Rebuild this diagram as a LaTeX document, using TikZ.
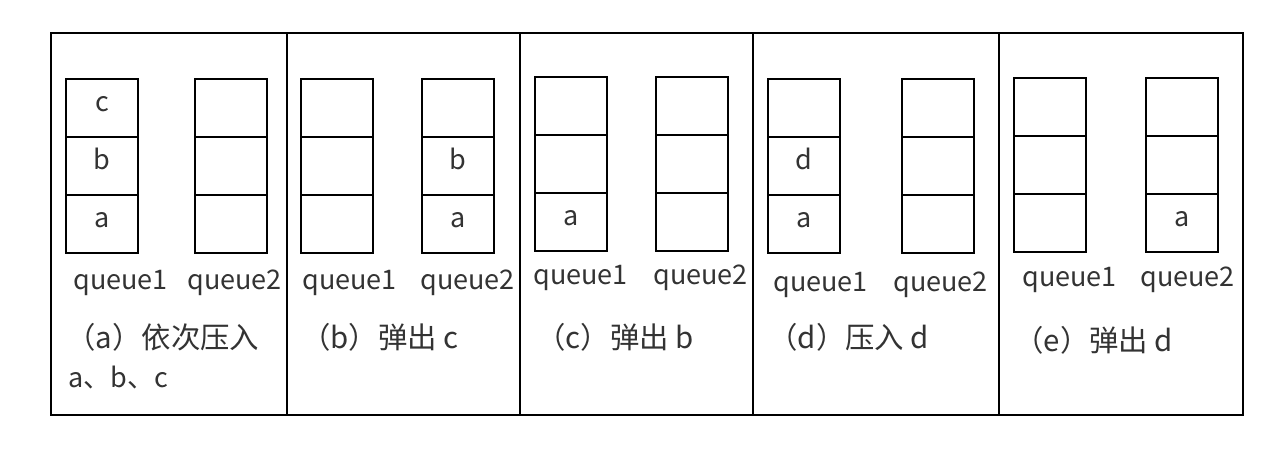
\documentclass[tikz,border=0pt]{standalone}
\usepackage{fontspec}
\setmainfont{Noto Sans CJK SC}
\usetikzlibrary{positioning}

\begin{document}
\begin{tikzpicture}
[x=0.5pt, y=-0.5pt,
 cell/.style={rectangle, draw, line width=0.9pt, minimum width=36pt, minimum height=29pt,
   inner sep=0pt, outer sep=0pt, text height=9pt, text depth=5.5pt, text=black!80, font=\fontsize{13.5}{16}\selectfont},
 qname/.style={anchor=base west, inner sep=0pt, text=black!80, font=\fontsize{13.5}{16}\selectfont},
 capt/.style={anchor=base west, inner sep=0pt, text=black!80, font=\fontsize{14.7}{17}\selectfont},
 frame/.style={line width=0.9pt}]
    \useasboundingbox (0,0) rectangle (1264,454);
    % outer frame and panel borders
    \draw[frame] (51,33) rectangle (1243,415);
    \draw[frame] (287,33) -- (287,415);
    \draw[frame] (520,33) -- (520,415);
    \draw[frame] (753,33) -- (753,415);
    \draw[frame] (999,33) -- (999,415);
    % (a)
    \node[cell](a1b) at (102,224) {a};
    \node[cell](a1m) [above=0pt of a1b] {b};
    \node[cell](a1t) [above=0pt of a1m] {c};
    \node[cell](a2b) at (231,224) {};
    \node[cell](a2m) [above=0pt of a2b] {};
    \node[cell](a2t) [above=0pt of a2m] {};
    \node[qname](a1n) at (73,290) {queue1};
    \node[qname](a2n) at (187,290) {queue2};
    \node[capt](acap) at (66,349) {（a）依次压入};
    \node[qname](acap2) at (68,387) {a、b、c};
    % (b)
    \node[cell](b1b) at (337,224) {};
    \node[cell](b1m) [above=0pt of b1b] {};
    \node[cell](b1t) [above=0pt of b1m] {};
    \node[cell](b2b) at (458,224) {a};
    \node[cell](b2m) [above=0pt of b2b] {b};
    \node[cell](b2t) [above=0pt of b2m] {};
    \node[qname](b1n) at (302,290) {queue1};
    \node[qname](b2n) at (420,290) {queue2};
    \node[capt](bcap) at (301,349) {（b）弹出 c};
    % (c)
    \node[cell](c1b) at (571,222) {a};
    \node[cell](c1m) [above=0pt of c1b] {};
    \node[cell](c1t) [above=0pt of c1m] {};
    \node[cell](c2b) at (692,222) {};
    \node[cell](c2m) [above=0pt of c2b] {};
    \node[cell](c2t) [above=0pt of c2m] {};
    \node[qname](c1n) at (533,285) {queue1};
    \node[qname](c2n) at (653,285) {queue2};
    \node[capt](ccap) at (536,349) {（c）弹出 b};
    % (d)
    \node[cell](d1b) at (804,224) {a};
    \node[cell](d1m) [above=0pt of d1b] {d};
    \node[cell](d1t) [above=0pt of d1m] {};
    \node[cell](d2b) at (938,224) {};
    \node[cell](d2m) [above=0pt of d2b] {};
    \node[cell](d2t) [above=0pt of d2m] {};
    \node[qname](d1n) at (773,292) {queue1};
    \node[qname](d2n) at (893,292) {queue2};
    \node[capt](dcap) at (768,349) {（d）压入 d};
    % (e)
    \node[cell](e1b) at (1050,223) {};
    \node[cell](e1m) [above=0pt of e1b] {};
    \node[cell](e1t) [above=0pt of e1m] {};
    \node[cell](e2b) at (1182,223) {a};
    \node[cell](e2m) [above=0pt of e2b] {};
    \node[cell](e2t) [above=0pt of e2m] {};
    \node[qname](e1n) at (1022,287) {queue1};
    \node[qname](e2n) at (1140,287) {queue2};
    \node[capt](ecap) at (1014,351) {（e）弹出 d};
\end{tikzpicture}
\end{document}
